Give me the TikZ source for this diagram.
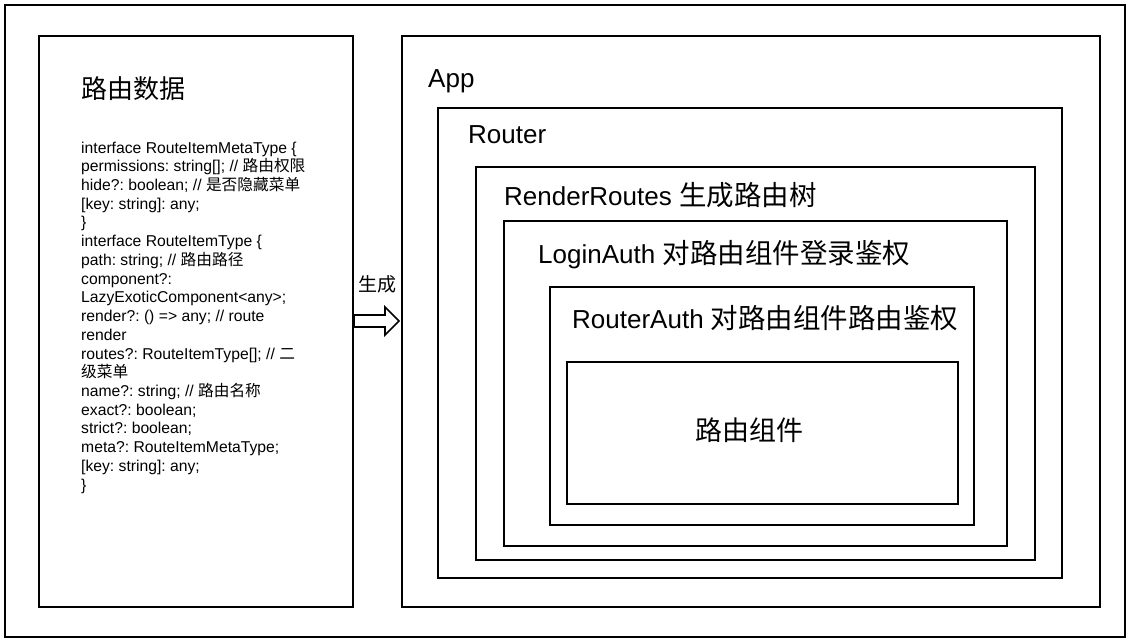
\documentclass[tikz,border=0pt]{standalone}
\usepackage{fontspec}
\setmainfont{Liberation Sans}
\newfontfamily\cjk{Noto Sans CJK SC}
\frenchspacing
\begin{document}
\begin{tikzpicture}[x=1pt,y=-1pt,
  box/.style={draw, line width=2pt, inner sep=0pt, anchor=north west},
  title/.style={anchor=base west, inner sep=0pt, font=\fontsize{26}{30}\selectfont},
  cjktitle/.style={inner sep=0pt, font=\fontsize{26}{30}\selectfont\cjk}]
\newcommand\tcjk{\fontsize{27.5}{30}\selectfont\cjk}
\useasboundingbox (0,0) rectangle (1130,641);
\node[box, minimum width=1120pt, minimum height=632pt] (frame) at (4,4) {};
\node[box, minimum width=314pt, minimum height=571pt] (data) at (38,35) {};
\node[box, minimum width=698pt, minimum height=571pt] (app) at (401,35) {};
\node[box, minimum width=624pt, minimum height=470pt] (router) at (437,107) {};
\node[box, minimum width=559pt, minimum height=393pt] (render) at (475,166) {};
\node[box, minimum width=503pt, minimum height=325pt] (login) at (503,220) {};
\node[box, minimum width=424pt, minimum height=238pt] (rauth) at (549,286) {};
\node[box, minimum width=391pt, minimum height=142pt] (comp) at (566,361) {};

\node[cjktitle, anchor=west] (datatitle) at (81,89) {路由数据};
\node[title] (apptitle) at (428,87) {App};
\node[title] (routertitle) at (468,143) {Router};
\node[title] (rendertitle) at (504,205) {RenderRoutes {\tcjk 生成路由树}};
\node[title] (logintitle) at (538,263) {LoginAuth {\tcjk 对路由组件登录鉴权}};
\node[title] (rauthtitle) at (572,328) {RouterAuth {\tcjk 对路由组件路由鉴权}};
\node[cjktitle, font=\fontsize{27}{30}\selectfont\cjk] (comptitle) at (749,430) {路由组件};

\node[anchor=north west, inner sep=0pt, align=left,
  font=\fontsize{15.7}{18.72}\selectfont] (code) at (81,141.5) {%
interface RouteItemMetaType \{\\
permissions: string[]; // {\cjk 路由权限}\\
hide?: boolean; // {\cjk 是否隐藏菜单}\\
{[}key: string]: any;\\
\}\\
interface RouteItemType \{\\
path: string; // {\cjk 路由路径}\\
component?:\\
LazyExoticComponent<any>;\\
render?: () => any; // route\\
render\\
routes?: RouteItemType[]; // {\cjk 二}\\
{\cjk 级菜单}\\
name?: string; // {\cjk 路由名称}\\
exact?: boolean;\\
strict?: boolean;\\
meta?: RouteItemMetaType;\\
{[}key: string]: any;\\
\}};

\node[inner sep=0pt, font=\fontsize{19}{20}\selectfont\cjk] (gen) at (377,284) {生成};
\draw[line width=1.6pt, line join=miter] (354,315) -- (385,315) -- (385,307) -- (399,321)
  -- (385,335) -- (385,327) -- (354,327) -- cycle;
\end{tikzpicture}
\end{document}
